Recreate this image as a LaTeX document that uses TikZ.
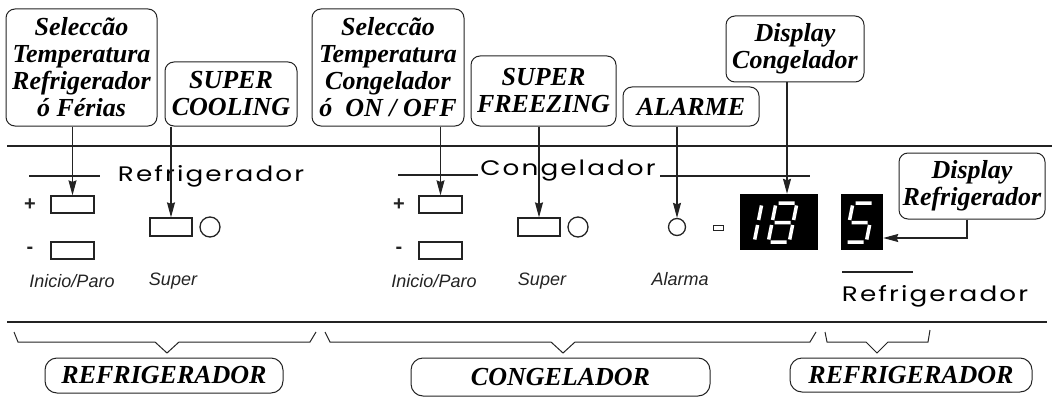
\documentclass[tikz,border=0pt]{standalone}
\usepackage{fontspec}
\setmainfont{Liberation Serif}
\newfontfamily\panelfont{Liberation Sans}
\newfontfamily\widefont[LetterSpace=8]{Poppins}
\usetikzlibrary{arrows.meta}
\definecolor{inkgray}{RGB}{35,35,35}

\begin{document}
\begin{tikzpicture}[x=1pt, y=-1pt,
    callout/.style={
      rectangle, rounded corners=9pt, draw=inkgray, line width=1pt,
      align=center, inner sep=0pt, text=black,
      font=\fontsize{26}{27}\selectfont\bfseries\itshape
    },
    btn/.style={rectangle, draw=inkgray, line width=1.3pt, minimum width=43pt, minimum height=17pt, inner sep=0pt},
    led/.style={circle, draw=inkgray, line width=1.3pt, minimum size=20pt, inner sep=0pt},
    disp/.style={rectangle, fill=black, minimum height=56pt, inner sep=0pt},
    seg/.style={draw=white, line width=3.5pt},
    panel/.style={font=\panelfont\fontsize{18}{20}\selectfont\itshape, text=inkgray, inner sep=0pt},
    sign/.style={font=\panelfont\fontsize{20}{20}\selectfont\bfseries, text=inkgray, inner sep=0pt},
    zone/.style={font=\widefont\fontsize{21}{21}\selectfont, text=black, inner sep=0pt, xscale=1.25},
    rule/.style={draw=inkgray, line width=2pt},
    brace/.style={draw=inkgray, line width=1pt},
    arr/.style={-{Stealth[length=15pt, width=8pt, inset=1.5pt]}, line width=1.1pt, draw=inkgray}
]
  \useasboundingbox (0,0) rectangle (1056,401);

  % Callouts
  \node[callout, minimum width=151pt, minimum height=117pt] (c1) at (81.5,67.5)
    {Seleccão\\Temperatura\\Refrigerador\\ó Férias};
  \node[callout, minimum width=132pt, minimum height=64pt] (c2) at (231,94)
    {SUPER\\COOLING};
  \node[callout, minimum width=152pt, minimum height=117pt] (c3) at (388,67.5)
    {Seleccão\\Temperatura\\Congelador\\ó\ \ ON / OFF};
  \node[callout, minimum width=145pt, minimum height=70pt] (c4) at (543.5,91)
    {SUPER\\FREEZING};
  \node[callout, minimum width=136pt, minimum height=39pt] (c5) at (691,106.5)
    {ALARME};
  \node[callout, minimum width=138pt, minimum height=66pt] (c6) at (795,49)
    {Display\\Congelador};
  \node[callout, minimum width=146pt, minimum height=66pt] (c7) at (972,186)
    {Display\\Refrigerador};

  % Panel edges
  \draw[draw=inkgray, line width=1.5pt] (7,146) -- (1052,146);
  \draw[draw=inkgray, line width=1.5pt] (7,322) -- (1047,322);

  % Refrigerador controls
  \draw[rule] (29,176) -- (100,176);
  \node[zone] (zr) at (211,176) {Refrigerador};
  \node[btn] (rp) at (72.5,204.5) {};
  \node[btn] (rm) at (72.5,250.5) {};
  \node[sign] (rps) at (30,205) {+};
  \node[sign] (rms) at (30,250) {-};
  \node[panel] (rip) at (72,281) {Inicio/Paro};
  \node[btn, minimum width=42pt, minimum height=18pt] (rs) at (171,227) {};
  \node[led] (rl) at (210,227) {};
  \node[panel] (rsu) at (173,281) {Super};

  % Congelador controls
  \draw[rule] (398,175) -- (478,175);
  \node[zone] (zc) at (568,171) {Congelador};
  \draw[rule] (660,176) -- (810,176);
  \node[btn] (cp) at (440.5,204.5) {};
  \node[btn] (cm) at (440.5,250.5) {};
  \node[sign] (cps) at (399,205) {+};
  \node[sign] (cms) at (399,250) {-};
  \node[panel] (cip) at (434,281) {Inicio/Paro};
  \node[btn, minimum width=42pt, minimum height=18pt] (cs) at (539,227) {};
  \node[led] (cl) at (578,227) {};
  \node[panel] (csu) at (542,281) {Super};
  \node[led, minimum size=17pt] (al) at (677,227) {};
  \node[panel] (ala) at (680,279) {Alarma};
  \draw[draw=inkgray, line width=1pt] (713,225) rectangle (723,230);

  % Displays
  \node[disp, minimum width=78pt] (dispF) at (779,222) {};
  \node[disp, minimum width=42pt] (dispR) at (862,222) {};
  \begin{scope}[shift={(762,203)}, xslant=0.2]
    \draw[seg] (0,2.5) -- (0,17) (0,22) -- (0,36.5);
  \end{scope}
  \begin{scope}[shift={(776,203)}, xslant=0.2]
    \draw[seg] (2.5,0) -- (18.5,0) (21,2.5) -- (21,17) (21,22) -- (21,36.5)
      (2.5,39) -- (18.5,39) (0,22) -- (0,36.5) (0,2.5) -- (0,17) (2.5,19.5) -- (18.5,19.5);
  \end{scope}
  \begin{scope}[shift={(853,203)}, xslant=0.2]
    \draw[seg] (2.5,0) -- (18.5,0) (0,2.5) -- (0,17) (2.5,19.5) -- (18.5,19.5)
      (21,22) -- (21,36.5) (2.5,39) -- (18.5,39);
  \end{scope}
  \draw[draw=inkgray, line width=2.5pt] (842,272) -- (913,272);
  \node[zone] (zr2) at (935,296) {Refrigerador};

  % Arrows
  \draw[arr] (c1.south -| rp.north) -- (rp.north);
  \draw[arr] (c2.south -| rs.north) -- (rs.north);
  \draw[arr] (c3.south -| cp.north) -- (cp.north);
  \draw[arr] (c4.south -| cs.north) -- (cs.north);
  \draw[arr] (c5.south -| al.north) -- (al.north);
  \draw[arr] ([xshift=-8pt]c6.south) -- ([xshift=-8pt]c6.south |- dispF.north);
  \draw[arr] ([xshift=-5pt]c7.south) |- ([yshift=-16pt]dispR.east);

  % Groups
  \draw[brace] (14,332) -- (18,342) -- (155,342) -- (167,353) -- (179,342) -- (310,342) -- (316,332);
  \draw[brace] (325,332) -- (330,342) -- (551,342) -- (563,353) -- (575,342) -- (810,342) -- (816,332);
  \draw[brace] (825,332) -- (827,342) -- (866,342) -- (877,353) -- (888,342) -- (928,342) -- (930,330);
  \node[callout, rounded corners=12pt, minimum width=238pt, minimum height=35pt] (b1) at (164,375.5) {REFRIGERADOR};
  \node[callout, rounded corners=12pt, minimum width=299pt, minimum height=38pt] (b2) at (560.5,377) {CONGELADOR};
  \node[callout, rounded corners=12pt, minimum width=242pt, minimum height=34pt] (b3) at (911,375) {REFRIGERADOR};
\end{tikzpicture}
\end{document}
